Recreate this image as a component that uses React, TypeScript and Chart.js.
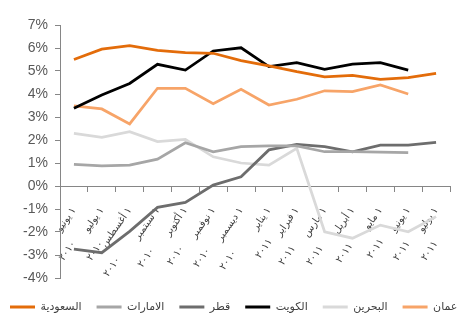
import React, { useEffect, useRef } from "react";
import { Chart, registerables } from "chart.js";

Chart.register(...registerables);

const dayPrefix = "١";
const months = ["يونيو", "يوليو", "أغسطس", "سبتمبر", "أكتوبر", "نوفمبر", "ديسمبر", "يناير", "فبراير", "مارس", "أبريل", "مايو", "يونيو", "يوليو"];
const years = ["٢٠١٠", "٢٠١٠", "٢٠١٠", "٢٠١٠", "٢٠١٠", "٢٠١٠", "٢٠١٠", "٢٠١١", "٢٠١١", "٢٠١١", "٢٠١١", "٢٠١١", "٢٠١١", "٢٠١١"];

const saudi = [5.5, 5.95, 6.1, 5.9, 5.8, 5.77, 5.45, 5.22, 4.97, 4.75, 4.81, 4.64, 4.71, 4.9];
const uae = [0.94, 0.88, 0.91, 1.17, 1.88, 1.49, 1.71, 1.74, 1.74, 1.49, 1.49, 1.47, 1.45, null];
const qatar = [-2.74, -2.9, -1.97, -0.93, -0.71, 0.04, 0.4, 1.57, 1.81, 1.71, 1.49, 1.78, 1.78, 1.9];
const kuwait = [3.38, 3.96, 4.46, 5.29, 5.04, 5.87, 6.01, 5.19, 5.36, 5.07, 5.3, 5.36, 5.04, null];
const bahrain = [2.29, 2.12, 2.36, 1.93, 2.03, 1.27, 1.0, 0.91, 1.64, -1.99, -2.27, -1.7, -1.99, -1.33];
const oman = [3.48, 3.35, 2.7, 4.25, 4.25, 3.58, 4.2, 3.52, 3.77, 4.14, 4.1, 4.39, 4.0, null];

const seriesNames = ["السعودية", "الامارات", "قطر", "الكويت", "البحرين", "عمان"];
const seriesValues = [saudi, uae, qatar, kuwait, bahrain, oman];
const seriesColors = ["#E36C0A", "#A6A6A6", "#6D6D6D", "#000000", "#D9D9D9", "#F7A468"];

const yMin = -4;
const yMax = 7;

const SHIFT = 15;
const CW = 560;
const CH = 329;
const PAD_LEFT = 10;
const PLOT_LEFT = 60 + SHIFT;
const PLOT_RIGHT = 450 + SHIFT;
const LEGEND_PAD = 15;

const FONT_FAMILY = "Arial, 'Liberation Sans', 'DejaVu Sans', sans-serif";
const X_FONT_SIZE = 10;

export default function App() {
  const ref = useRef<HTMLCanvasElement | null>(null);

  useEffect(() => {
    const canvas = ref.current;
    if (!canvas) return;

    const m = document.createElement("canvas").getContext("2d")!;
    m.font = `${X_FONT_SIZE}px ${FONT_FAMILY}`;
    const spaceW = m.measureText(" ").width || 3;
    const labels = months.map((mo, i) => {
      const l1 = `${dayPrefix} ${mo}`;
      const w1 = m.measureText(l1).width;
      const n = Math.max(0, Math.round(w1 / spaceW));
      return [l1, years[i] + " ".repeat(n)];
    });

    const chart = new Chart(canvas, {
      type: "line",
      data: {
        labels,
        datasets: seriesNames.map((name, i) => ({
          label: name,
          data: seriesValues[i],
          borderColor: seriesColors[i],
          backgroundColor: seriesColors[i],
          borderWidth: 2.75,
          pointRadius: 0,
          pointHoverRadius: 0,
          tension: 0,
          spanGaps: false,
        })),
      },
      options: {
        responsive: false,
        maintainAspectRatio: false,
        animation: false,
        devicePixelRatio: 1,
        layout: { padding: { top: 25, bottom: 6.5, left: PAD_LEFT, right: 0 } },
        plugins: {
          tooltip: { enabled: false },
          legend: {
            position: "bottom",
            align: "start",
            title: { display: true, text: "", font: { size: 1, lineHeight: 1 }, padding: { top: 7.5, bottom: 0 } },
            labels: {
              boxWidth: 25,
              boxHeight: 3,
              padding: LEGEND_PAD,
              color: "#404040",
              font: { family: FONT_FAMILY, size: 11 },
              generateLabels: (ch: any) =>
                ch.data.datasets.map((ds: any, i: number) => ({
                  text: ds.label,
                  fillStyle: ds.borderColor,
                  strokeStyle: ds.borderColor,
                  lineWidth: 0,
                  hidden: false,
                  datasetIndex: i,
                  fontColor: "#404040",
                })),
            },
          },
        },
        scales: {
          x: {
            type: "category",
            position: { y: 0 } as any,
            offset: true,
            grid: {
              offset: true,
              drawOnChartArea: false,
              drawTicks: true,
              tickLength: 5,
              color: "#868686",
            },
            border: { display: true, color: "#868686", width: 1 },
            ticks: {
              autoSkip: false,
              minRotation: 55,
              maxRotation: 55,
              padding: 12,
              color: "#404040",
              font: { family: FONT_FAMILY, size: X_FONT_SIZE, lineHeight: 1.9 },
            },
          },
          y: {
            type: "linear",
            position: "left",
            min: yMin,
            max: yMax,
            afterFit: (s: any) => {
              s.width = PLOT_LEFT - PAD_LEFT;
            },
            grid: {
              drawOnChartArea: false,
              drawTicks: true,
              tickLength: 5,
              color: "#868686",
            },
            border: { display: true, color: "#868686", width: 1 },
            ticks: {
              stepSize: 1,
              autoSkip: false,
              padding: 7,
              color: "#595959",
              font: { family: FONT_FAMILY, size: 14 },
              callback: (v: any) => `${v}%`,
            },
          },
          yR: {
            type: "linear",
            position: "right",
            display: true,
            afterFit: (s: any) => {
              s.width = CW - PLOT_RIGHT;
            },
            grid: { display: false, drawTicks: false },
            border: { display: false },
            ticks: { display: false },
          },
        },
      },
    });

    return () => chart.destroy();
  }, []);

  return (
    <div style={{ position: "fixed", left: 0, top: 0, width: 463, height: CH, overflow: "hidden", background: "#fff" }}>
      <canvas ref={ref} width={CW} height={CH} style={{ display: "block", width: CW, height: CH, marginLeft: -SHIFT }} />
    </div>
  );
}
